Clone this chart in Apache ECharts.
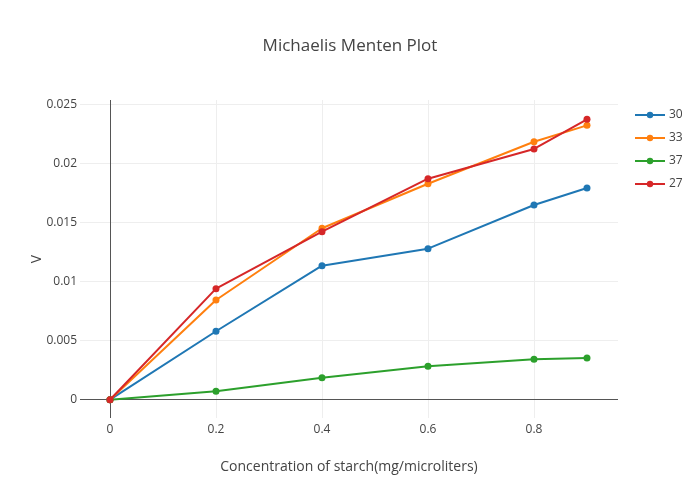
<!DOCTYPE html>
<html>
<head>
<meta charset="utf-8">
<script src="https://cdn.jsdelivr.net/npm/echarts@6/dist/echarts.min.js"></script>
<style>html,body{margin:0;padding:0;background:#fff}#c{width:700px;height:500px}</style>
</head>
<body>
<div id="c"></div>
<script>
var concentrations = [0, 0.2, 0.4, 0.6, 0.8, 0.9];
var seriesNames = ['30', '33', '37', '27'];
var v30 = [0, 0.0058, 0.01136, 0.0128, 0.0165, 0.01794];
var v33 = [0, 0.00845, 0.01453, 0.0183, 0.02186, 0.02325];
var v37 = [0, 0.00071, 0.00186, 0.00283, 0.00342, 0.00353];
var v27 = [0, 0.00941, 0.01424, 0.01873, 0.02125, 0.02376];
var seriesValues = [v30, v33, v37, v27];
var colors = ['#1f77b4', '#ff7f0e', '#2ca02c', '#d62728'];

var font = '"Open Sans", "Noto Sans", sans-serif';

function fmt(v) {
  return String(+v.toFixed(4));
}

var series = seriesNames.map(function (name, i) {
  return {
    name: name,
    type: 'line',
    data: concentrations.map(function (x, j) { return [x, seriesValues[i][j]]; }),
    symbol: 'circle',
    symbolSize: 7,
    showSymbol: true,
    lineStyle: { width: 2, color: colors[i] },
    itemStyle: { color: colors[i] },
    z: 3 + i
  };
});

series.push({
  name: '_zero',
  type: 'line',
  data: [],
  silent: true,
  markLine: {
    silent: true,
    symbol: 'none',
    label: { show: false },
    lineStyle: { color: '#555', width: 1, type: 'solid' },
    data: [{ xAxis: 0 }, { yAxis: 0 }]
  },
  z: 2
});

var chart = echarts.init(document.getElementById('c'), null, { renderer: 'canvas' });
chart.setOption({
  animation: false,
  backgroundColor: '#fff',
  color: colors,
  title: {
    text: 'Michaelis Menten Plot',
    left: 'center',
    top: 33,
    textStyle: { fontFamily: font, fontSize: 17, fontWeight: 'normal', color: '#444' }
  },
  legend: {
    data: seriesNames,
    orient: 'vertical',
    left: 629,
    top: 104,
    itemWidth: 30,
    itemHeight: 8,
    itemGap: 11,
    textStyle: { fontFamily: font, fontSize: 12, color: '#444', padding: [0, 0, 0, -1] }
  },
  grid: { left: 80, right: 82, top: 100, bottom: 82, containLabel: false },
  xAxis: {
    type: 'value',
    min: -0.0566,
    max: 0.9585,
    splitNumber: 5,
    minInterval: 0.2,
    maxInterval: 0.2,
    name: 'Concentration of starch(mg/microliters)',
    nameLocation: 'middle',
    nameGap: 42,
    nameMoveOverlap: false,
    nameTextStyle: { fontFamily: font, fontSize: 14, color: '#444' },
    axisLine: { show: false, onZero: false },
    axisTick: { show: false },
    axisLabel: {
      showMinLabel: false, showMaxLabel: false,
      margin: 6,
      fontFamily: font, fontSize: 12, color: '#444',
      formatter: fmt
    },
    splitLine: { show: true, showMinLine: false, showMaxLine: false, lineStyle: { color: '#eee', width: 1 } }
  },
  yAxis: {
    type: 'value',
    min: -0.00155,
    max: 0.0254,
    splitNumber: 5,
    minInterval: 0.005,
    maxInterval: 0.005,
    name: 'V',
    nameLocation: 'middle',
    nameGap: 36,
    nameRotate: 90,
    nameMoveOverlap: false,
    nameTextStyle: { fontFamily: font, fontSize: 14, color: '#444' },
    axisLine: { show: false, onZero: false },
    axisTick: { show: false },
    axisLabel: {
      showMinLabel: false, showMaxLabel: false,
      margin: 3,
      padding: [3, 0, 0, 0],
      fontFamily: font, fontSize: 12, color: '#444',
      formatter: fmt
    },
    splitLine: { show: true, showMinLine: false, showMaxLine: false, lineStyle: { color: '#eee', width: 1 } }
  },
  series: series
});
</script>
</body>
</html>
